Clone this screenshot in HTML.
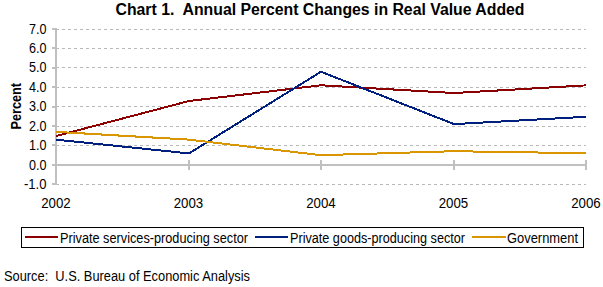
<!DOCTYPE html>
<html><head><meta charset="utf-8"><style>
html,body{margin:0;padding:0;background:#fff;width:603px;height:287px;overflow:hidden}
svg{display:block}
</style></head><body>
<svg width="603" height="287" viewBox="0 0 603 287">
<line x1="56" y1="29.5" x2="586" y2="29.5" stroke="#b8b8b8" stroke-width="1" stroke-dasharray="3 3"/>
<line x1="56" y1="48.5" x2="586" y2="48.5" stroke="#b8b8b8" stroke-width="1" stroke-dasharray="3 3"/>
<line x1="56" y1="67.5" x2="586" y2="67.5" stroke="#b8b8b8" stroke-width="1" stroke-dasharray="3 3"/>
<line x1="56" y1="87.5" x2="586" y2="87.5" stroke="#b8b8b8" stroke-width="1" stroke-dasharray="3 3"/>
<line x1="56" y1="106.5" x2="586" y2="106.5" stroke="#b8b8b8" stroke-width="1" stroke-dasharray="3 3"/>
<line x1="56" y1="126.5" x2="586" y2="126.5" stroke="#b8b8b8" stroke-width="1" stroke-dasharray="3 3"/>
<line x1="56" y1="145.5" x2="586" y2="145.5" stroke="#b8b8b8" stroke-width="1" stroke-dasharray="3 3"/>
<line x1="56" y1="184.5" x2="586" y2="184.5" stroke="#b8b8b8" stroke-width="1" stroke-dasharray="3 3"/>
<rect x="55" y="28" width="2" height="157" fill="#c0c0c0"/>
<rect x="52" y="28" width="3" height="2" fill="#c0c0c0"/>
<rect x="52" y="47" width="3" height="2" fill="#c0c0c0"/>
<rect x="52" y="67" width="3" height="2" fill="#c0c0c0"/>
<rect x="52" y="86" width="3" height="2" fill="#c0c0c0"/>
<rect x="52" y="106" width="3" height="2" fill="#c0c0c0"/>
<rect x="52" y="125" width="3" height="2" fill="#c0c0c0"/>
<rect x="52" y="144" width="3" height="2" fill="#c0c0c0"/>
<rect x="52" y="164" width="3" height="2" fill="#c0c0c0"/>
<rect x="52" y="183" width="3" height="2" fill="#c0c0c0"/>
<rect x="55" y="164" width="532" height="2" fill="#c0c0c0"/>
<rect x="55" y="160" width="2" height="10" fill="#c0c0c0"/>
<rect x="188" y="160" width="2" height="10" fill="#c0c0c0"/>
<rect x="320" y="160" width="2" height="10" fill="#c0c0c0"/>
<rect x="453" y="160" width="2" height="10" fill="#c0c0c0"/>
<rect x="585" y="160" width="2" height="10" fill="#c0c0c0"/>
<polyline points="56,136 189,101 321,85.28 454,93.04 586,85.36" fill="none" stroke="#8b0000" stroke-width="2" stroke-linejoin="miter" shape-rendering="crispEdges"/>
<polyline points="56,139.65 189,153.4 321,71.75 454,124.1 586,116.8" fill="none" stroke="#002080" stroke-width="2" stroke-linejoin="miter" shape-rendering="crispEdges"/>
<polyline points="56,131.83 189,139.65 321,155.17 454,151.21 586,153.25" fill="none" stroke="#da9600" stroke-width="2" stroke-linejoin="miter" shape-rendering="crispEdges"/>
<text x="46.5" y="34" text-anchor="end" font-family="'Liberation Sans', sans-serif" font-size="14" textLength="17.5" lengthAdjust="spacingAndGlyphs">7.0</text>
<text x="46.5" y="53" text-anchor="end" font-family="'Liberation Sans', sans-serif" font-size="14" textLength="17.5" lengthAdjust="spacingAndGlyphs">6.0</text>
<text x="46.5" y="72" text-anchor="end" font-family="'Liberation Sans', sans-serif" font-size="14" textLength="17.5" lengthAdjust="spacingAndGlyphs">5.0</text>
<text x="46.5" y="92" text-anchor="end" font-family="'Liberation Sans', sans-serif" font-size="14" textLength="17.5" lengthAdjust="spacingAndGlyphs">4.0</text>
<text x="46.5" y="111" text-anchor="end" font-family="'Liberation Sans', sans-serif" font-size="14" textLength="17.5" lengthAdjust="spacingAndGlyphs">3.0</text>
<text x="46.5" y="131" text-anchor="end" font-family="'Liberation Sans', sans-serif" font-size="14" textLength="17.5" lengthAdjust="spacingAndGlyphs">2.0</text>
<text x="46.5" y="150" text-anchor="end" font-family="'Liberation Sans', sans-serif" font-size="14" textLength="17.5" lengthAdjust="spacingAndGlyphs">1.0</text>
<text x="46.5" y="170" text-anchor="end" font-family="'Liberation Sans', sans-serif" font-size="14" textLength="17.5" lengthAdjust="spacingAndGlyphs">0.0</text>
<text x="46.5" y="189" text-anchor="end" font-family="'Liberation Sans', sans-serif" font-size="14" textLength="22.5" lengthAdjust="spacingAndGlyphs">-1.0</text>
<text x="56.0" y="208" text-anchor="middle" font-family="'Liberation Sans', sans-serif" font-size="14" textLength="29.5" lengthAdjust="spacingAndGlyphs">2002</text>
<text x="188.5" y="208" text-anchor="middle" font-family="'Liberation Sans', sans-serif" font-size="14" textLength="29.5" lengthAdjust="spacingAndGlyphs">2003</text>
<text x="321.0" y="208" text-anchor="middle" font-family="'Liberation Sans', sans-serif" font-size="14" textLength="29.5" lengthAdjust="spacingAndGlyphs">2004</text>
<text x="453.5" y="208" text-anchor="middle" font-family="'Liberation Sans', sans-serif" font-size="14" textLength="29.5" lengthAdjust="spacingAndGlyphs">2005</text>
<text x="586.0" y="208" text-anchor="middle" font-family="'Liberation Sans', sans-serif" font-size="14" textLength="29.5" lengthAdjust="spacingAndGlyphs">2006</text>
<text transform="translate(21,106.3) rotate(-90)" text-anchor="middle" font-family="'Liberation Sans', sans-serif" font-weight="bold" font-size="14" textLength="46.5" lengthAdjust="spacingAndGlyphs">Percent</text>
<text x="320" y="15" text-anchor="middle" font-family="'Liberation Sans', sans-serif" font-weight="bold" font-size="16" textLength="409" lengthAdjust="spacingAndGlyphs">Chart 1.  Annual Percent Changes in Real Value Added</text>
<rect x="21.5" y="227.5" width="562" height="20" fill="none" stroke="#000" stroke-width="1"/>
<rect x="25" y="236" width="33" height="2" fill="#8b0000"/>
<rect x="255" y="236" width="33" height="2" fill="#002080"/>
<rect x="472" y="236" width="34" height="2" fill="#da9600"/>
<text x="60" y="243" font-family="'Liberation Sans', sans-serif" font-size="14" textLength="188" lengthAdjust="spacingAndGlyphs">Private services-producing sector</text>
<text x="290" y="243" font-family="'Liberation Sans', sans-serif" font-size="14" textLength="175" lengthAdjust="spacingAndGlyphs">Private goods-producing sector</text>
<text x="507" y="243" font-family="'Liberation Sans', sans-serif" font-size="14" textLength="71" lengthAdjust="spacingAndGlyphs">Government</text>
<text x="4" y="281" font-family="'Liberation Sans', sans-serif" font-size="14" textLength="246" lengthAdjust="spacingAndGlyphs">Source:  U.S. Bureau of Economic Analysis</text>
</svg>
</body></html>
